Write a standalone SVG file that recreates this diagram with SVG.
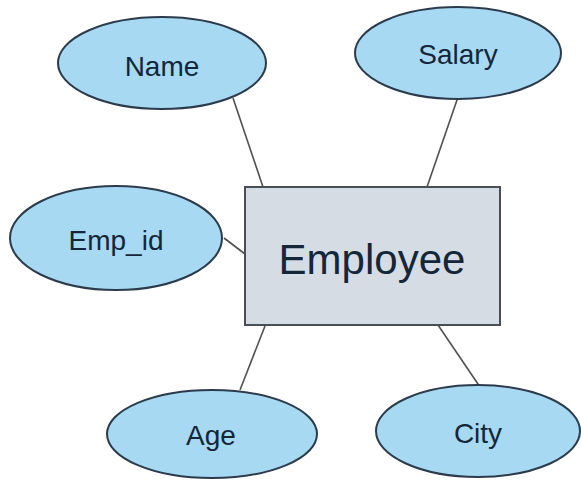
<svg xmlns="http://www.w3.org/2000/svg" width="581" height="480" viewBox="0 0 581 480">
<style>
.attr{fill:#a7d9f2;stroke:#2b3b4b;stroke-width:2}
.ent{fill:#d5dce4;stroke:#4a4f55;stroke-width:2}
.lbl{font-family:"Liberation Sans",Arial,sans-serif;font-size:28px;fill:#14263a;text-anchor:middle}
.big{font-size:42px}
.conn line{stroke:#505050;stroke-width:1.6}
</style>
<rect width="581" height="480" fill="#ffffff"/>
<g class="conn" id="connectors">
<line x1="233" y1="98" x2="263" y2="187"/>
<line x1="457" y1="100" x2="427" y2="187"/>
<line x1="224" y1="238" x2="245" y2="254"/>
<line x1="265" y1="326" x2="240" y2="390"/>
<line x1="438" y1="325" x2="480" y2="387"/>
</g>
<g id="employee">
<rect class="ent" x="245" y="187" width="255" height="138"/>
<text class="lbl big" x="372" y="274">Employee</text>
</g>
<g id="name">
<ellipse class="attr" cx="162" cy="63" rx="104" ry="46"/>
<text class="lbl" x="162" y="76">Name</text>
</g>
<g id="salary">
<ellipse class="attr" cx="458" cy="53" rx="103" ry="46"/>
<text class="lbl" x="458" y="64">Salary</text>
</g>
<g id="emp_id">
<ellipse class="attr" cx="116" cy="238" rx="106" ry="52"/>
<text class="lbl" x="116" y="250">Emp_id</text>
</g>
<g id="age">
<ellipse class="attr" cx="212" cy="434" rx="105" ry="44"/>
<text class="lbl" x="211" y="445">Age</text>
</g>
<g id="city">
<ellipse class="attr" cx="478" cy="431" rx="102" ry="46"/>
<text class="lbl" x="478" y="443">City</text>
</g>
</svg>
